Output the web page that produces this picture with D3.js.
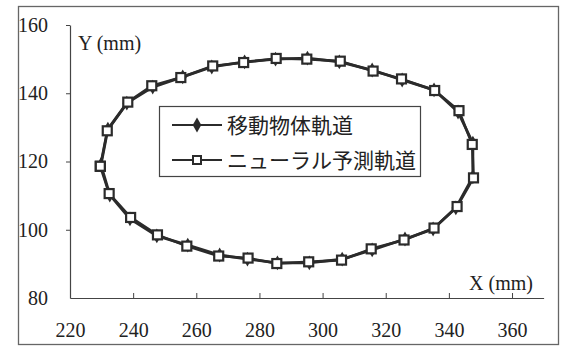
<!DOCTYPE html>
<html>
<head>
<meta charset="utf-8">
<script src="https://cdn.jsdelivr.net/npm/d3@7"></script>
<style>
html,body{margin:0;padding:0;background:#fff;}
svg{display:block;}
</style>
</head>
<body>
<svg id="chart" width="564" height="348"></svg>
<script>
// ---- data ----
const xTicks = [220, 240, 260, 280, 300, 320, 340, 360];
const yTicks = [80, 100, 120, 140, 160];
const seriesNames = ["移動物体軌道", "ニューラル予測軌道"];
const objX = [229.8,232.0,238.0,246.2,255.7,264.9,275.3,285.1,295.2,305.3,315.7,325.2,335.3,342.9,347.6,347.6,342.2,335.0,326.1,315.7,306.2,295.8,285.7,276.2,267.4,257.3,247.5,239.0,232.6,229.8];
const objY = [119.0,129.5,137.1,141.8,144.8,147.7,149.2,150.0,150.3,149.2,146.8,143.9,141.0,134.5,125.4,115.5,106.4,100.2,97.3,94.1,91.4,90.3,90.3,91.4,92.6,95.5,98.2,103.2,110.2,119.0];
const predX = [229.6,231.8,238.3,245.9,255.1,265.2,275.0,285.3,295.0,305.6,316.0,325.0,335.5,343.2,347.4,347.8,342.6,335.3,325.8,315.4,306.0,295.6,285.5,276.4,267.1,257.0,247.7,239.2,232.4,229.6];
const predY = [118.6,129.0,137.4,142.2,144.6,148.0,149.0,150.2,150.0,149.4,146.5,144.2,140.8,134.9,125.0,115.2,106.8,100.5,97.0,94.4,91.1,90.6,90.1,91.7,92.3,95.2,98.5,103.6,110.6,118.6];

const svg = d3.select("#chart");
const ink = "#2b2b2b";
const serif = "'Liberation Serif','DejaVu Serif',serif";
const cjk = "'Noto Sans CJK JP','Noto Sans CJK SC',sans-serif";

// outer frame
svg.append("rect").attr("x", 18.5).attr("y", 6.5).attr("width", 540).attr("height", 338)
  .attr("fill", "none").attr("stroke", "#666").attr("stroke-width", 1.3);

const x = d3.scaleLinear().domain([220, 370]).range([70, 543.6]);
const y = d3.scaleLinear().domain([80, 160]).range([298, 25]);

// axes
const xAxis = svg.append("g").attr("transform", "translate(0,298)")
  .call(d3.axisBottom(x).tickValues(xTicks).tickSize(-5).tickPadding(14).tickSizeOuter(0));
const yAxis = svg.append("g").attr("transform", "translate(70,0)")
  .call(d3.axisLeft(y).tickValues(yTicks).tickSize(4).tickPadding(18).tickSizeOuter(0));
[xAxis, yAxis].forEach(g => {
  g.select(".domain").attr("stroke", "#444").attr("stroke-width", 1.2);
  g.selectAll(".tick line").attr("stroke", "#444").attr("stroke-width", 1);
  g.selectAll(".tick text").attr("fill", "#222").style("font-family", serif).style("font-size", "20px");
});
xAxis.select(".tick:first-of-type line").remove();
yAxis.select(".tick:first-of-type line").remove();
xAxis.selectAll(".tick text").attr("dy", "0.71em").attr("y", 25);

// axis titles
svg.append("text").attr("x", 78).attr("y", 50).text("Y (mm)")
  .style("font-family", serif).style("font-size", "20px").attr("fill", "#222");
svg.append("text").attr("x", 533).attr("y", 290).attr("text-anchor", "end").text("X (mm)")
  .style("font-family", serif).style("font-size", "20px").attr("fill", "#222");

// lines
const line = d3.line().x(d => x(d[0])).y(d => y(d[1]));
const objPts = objX.map((v, i) => [v, objY[i]]);
const predPts = predX.map((v, i) => [v, predY[i]]);

svg.append("path").attr("d", line(objPts)).attr("fill", "none")
  .attr("stroke", ink).attr("stroke-width", 2.8).attr("stroke-linejoin", "round");
svg.append("path").attr("d", line(predPts)).attr("fill", "none")
  .attr("stroke", ink).attr("stroke-width", 2.6).attr("stroke-linejoin", "round");

const diamond = d3.symbol().type(d3.symbolDiamond).size(64);
svg.append("g").selectAll("path").data(objPts).join("path")
  .attr("d", diamond).attr("transform", d => `translate(${x(d[0])},${y(d[1])})`)
  .attr("fill", ink);
svg.append("g").selectAll("rect").data(predPts).join("rect")
  .attr("x", d => x(d[0]) - 4.5).attr("y", d => y(d[1]) - 4.5)
  .attr("width", 9).attr("height", 9)
  .attr("fill", "#fff").attr("stroke", ink).attr("stroke-width", 2.2);

// legend
const lg = svg.append("g");
lg.append("rect").attr("x", 159.5).attr("y", 106.5).attr("width", 261).attr("height", 70)
  .attr("fill", "#fff").attr("stroke", "#444").attr("stroke-width", 1.2);
const legY = [125, 160];
seriesNames.forEach((name, i) => {
  lg.append("line").attr("x1", 172).attr("x2", 222).attr("y1", legY[i]).attr("y2", legY[i])
    .attr("stroke", ink).attr("stroke-width", 2.2);
  if (i === 0) {
    lg.append("path").attr("d", diamond).attr("transform", `translate(197,${legY[i]})`).attr("fill", ink);
  } else {
    lg.append("rect").attr("x", 193).attr("y", legY[i] - 4).attr("width", 8).attr("height", 8)
      .attr("fill", "#fff").attr("stroke", ink).attr("stroke-width", 2);
  }
  lg.append("text").attr("x", 227).attr("y", legY[i]).attr("dy", "0.36em").text(name)
    .style("font-family", cjk).style("font-size", "21px").attr("fill", "#222");
});
</script>
</body>
</html>
